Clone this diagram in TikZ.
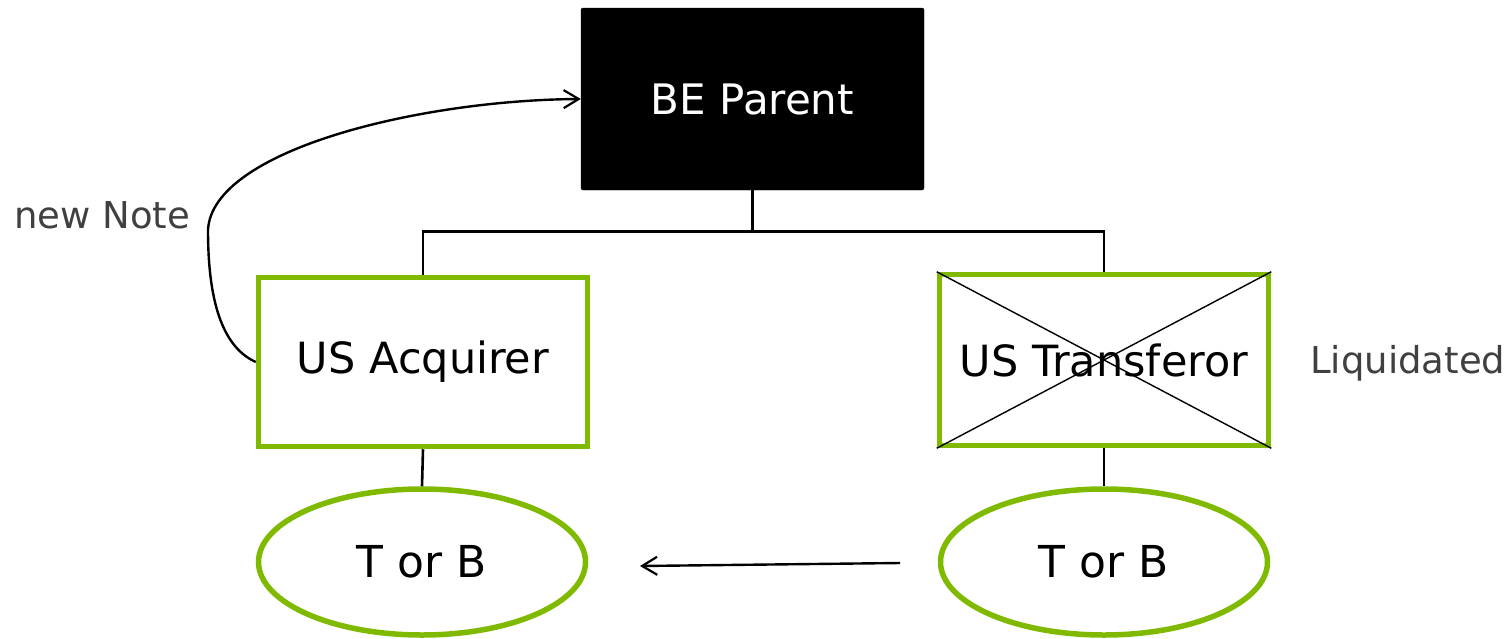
\documentclass[tikz,border=0pt]{standalone}
\usepackage{fontspec}
\setmainfont{DejaVu Sans}
\usetikzlibrary{arrows.meta,shapes.geometric,calc}
\definecolor{entgreen}{RGB}{127,186,0}
\definecolor{notegrey}{RGB}{64,64,64}
\tikzset{
  entitybox/.style={draw=entgreen, line width=5.5pt, fill=white, rectangle,
    minimum width=329pt, inner sep=0pt, font=\fontsize{43}{50}\selectfont},
  ownerbox/.style={draw=black, fill=black, text=white, rectangle, rounded corners=2pt,
    minimum width=343pt, minimum height=182pt, inner sep=0pt, font=\fontsize{42}{50}\selectfont},
  hybrid/.style={draw=entgreen, line width=5.5pt, fill=white, ellipse,
    minimum width=327pt, minimum height=146pt, inner sep=0pt, font=\fontsize{44}{50}\selectfont},
  tie/.style={draw=black, line width=2.6pt},
  flow/.style={draw=black, line width=2.4pt, -{Straight Barb[length=15pt,width=18pt,line width=2.2pt]}},
  sidenote/.style={text=notegrey, inner sep=0pt, font=\fontsize{37}{44}\selectfont},
}
\begin{document}
\begin{tikzpicture}[x=1pt,y=-1pt]
\useasboundingbox[fill=white] (0,0) rectangle (1508,638);

% entities
\node[ownerbox] (be) at (752.5,99) {BE Parent};
\node[entitybox, minimum height=169pt] (acq) at (423,362) {US Acquirer};
\node[entitybox, minimum height=171pt] (tr) at (1104,360) {US Transferor};
\node[hybrid] (tbl) at (422,562) {T or B};
\node[hybrid] (tbr) at (1104,562) {T or B};

% liquidated transferor is crossed out
\draw[line width=1.4pt] (tr.north west) -- (tr.south east);
\draw[line width=1.4pt] (tr.south west) -- (tr.north east);

% ownership lines
\coordinate (bus) at ($(be.south)+(0,41)$);
\draw[tie] (be.south) -- (bus) -| (acq.north);
\draw[tie] (bus) -| (tr.north);
\draw[tie] (acq.south) -- (tbl.north);
\draw[tie] (tr.south) -- (tbr.north);

% asset transfer
\coordinate (moveS) at (900,563);
\coordinate (moveE) at (640,566);
\draw[flow] (moveS) -- (moveE);

% note issued to the parent
\draw[flow] (acq.west) .. controls (218,345) and (208,290) .. (208,230)
  .. controls (212,150) and (420,100) .. (be.west);

% side labels
\node[sidenote, anchor=west] (note) at (14,215) {new Note};
\node[sidenote, anchor=west] (liq) at (1310,363) {Liquidated};
\end{tikzpicture}
\end{document}
